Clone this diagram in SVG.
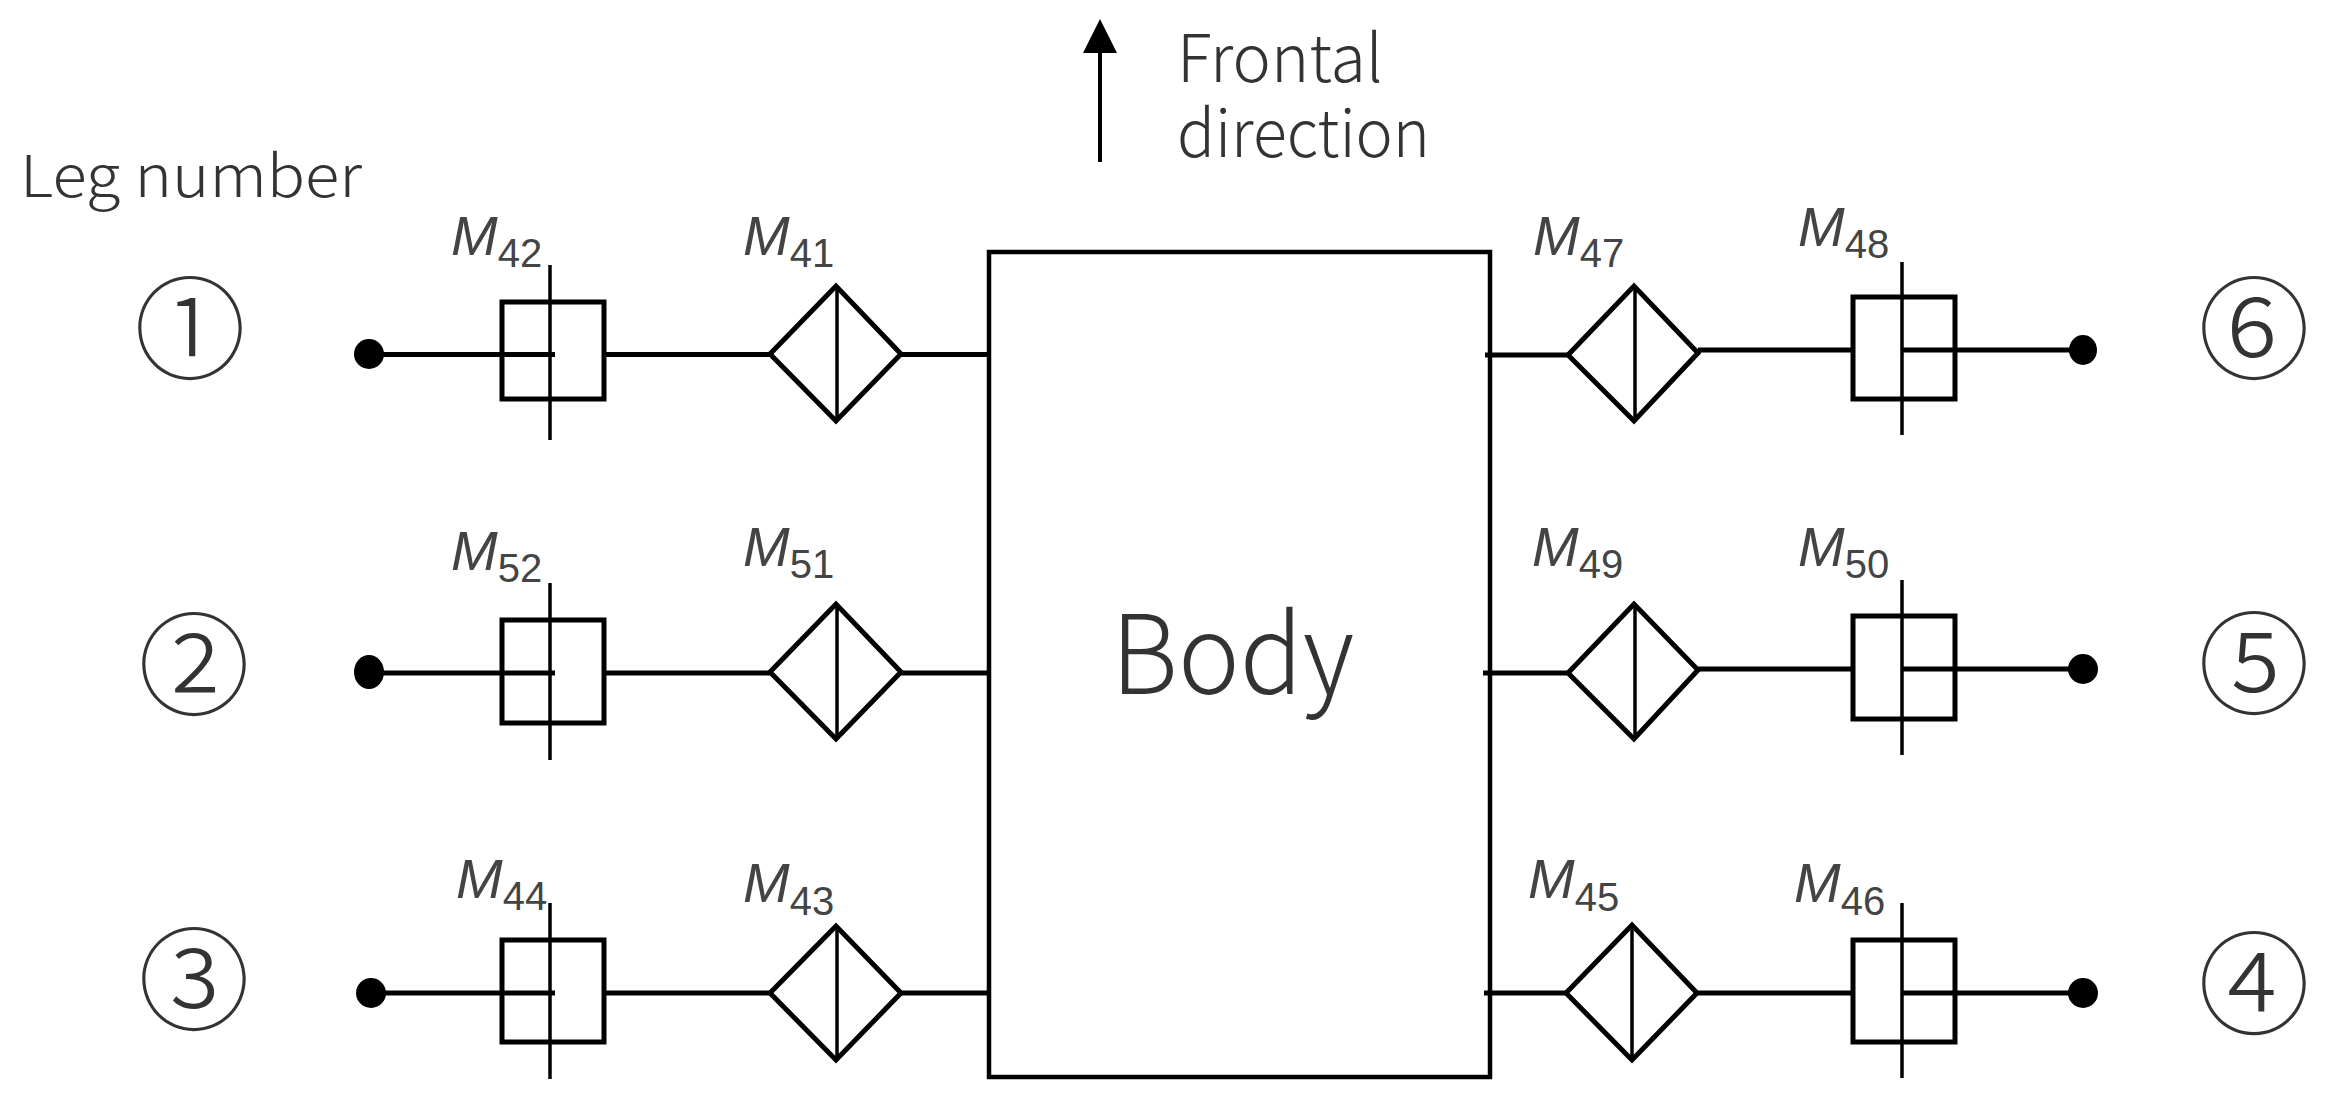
<svg xmlns="http://www.w3.org/2000/svg" width="2348" height="1119" viewBox="0 0 2348 1119">
<style>
.s{fill:none;stroke:#000;stroke-width:5}
.w{fill:#fff;stroke:#000;stroke-width:4.5}
.v{fill:none;stroke:#000;stroke-width:3.5}
.d{fill:#000}
.c line{stroke:#000;stroke-width:5}
text{fill:#333;font-family:"Noto Sans CJK JP","Noto Sans",sans-serif;font-weight:300}
text.m{font-family:"Liberation Sans",Arial,sans-serif;font-style:italic;font-weight:400;font-size:56px;fill:#444}
.m tspan{font-size:40px;font-style:normal}
.n{font-size:112px;text-anchor:middle}
</style>
<defs>
<marker id="head" markerUnits="userSpaceOnUse" markerWidth="34" markerHeight="34" refX="0" refY="17" orient="auto"><path d="M0,0L34,17L0,34Z" fill="#000"/></marker>
</defs>
<rect width="2348" height="1119" fill="#fff"/>
<g id="body"><rect class="w" x="989" y="252" width="501" height="825"/><text x="1111" y="694" font-size="110" textLength="243" lengthAdjust="spacingAndGlyphs">Body</text></g>
<g id="frontal-label"><text x="1177" y="82" font-size="66" textLength="206" lengthAdjust="spacingAndGlyphs">Frontal</text><text x="1177" y="157" font-size="66" textLength="253" lengthAdjust="spacingAndGlyphs">direction</text></g>
<g id="leg-number-label"><text x="20" y="197" font-size="58" textLength="342" lengthAdjust="spacingAndGlyphs">Leg number</text></g>
<g id="leg1"><text class="n" x="190" y="371">①</text></g>
<g id="leg2"><text class="n" x="194" y="707">②</text></g>
<g id="leg3"><text class="n" x="194" y="1022">③</text></g>
<g id="leg6"><text class="n" x="2254" y="371">⑥</text></g>
<g id="leg5"><text class="n" x="2254" y="706">⑤</text></g>
<g id="leg4"><text class="n" x="2254" y="1026">④</text></g>
<g id="m42"><rect class="s" x="502" y="302" width="102" height="97"/><line class="v" x1="550" y1="265" x2="550" y2="440"/><text class="m" x="451" y="255">M<tspan dy="12">42</tspan></text></g>
<g id="m41"><path class="s" d="M770,354L836,286L901,354L836,421Z"/><line class="v" x1="837" y1="286" x2="837" y2="421"/><text class="m" x="743" y="255">M<tspan dy="12">41</tspan></text></g>
<g id="m52"><rect class="s" x="502" y="620" width="102" height="103"/><line class="v" x1="550" y1="583" x2="550" y2="760"/><text class="m" x="451" y="570">M<tspan dy="12">52</tspan></text></g>
<g id="m51"><path class="s" d="M770,672L836,604L901,672L836,739Z"/><line class="v" x1="837" y1="604" x2="837" y2="739"/><text class="m" x="743" y="566">M<tspan dy="12">51</tspan></text></g>
<g id="m44"><rect class="s" x="502" y="940" width="102" height="102"/><line class="v" x1="550" y1="903" x2="550" y2="1079"/><text class="m" x="456" y="898">M<tspan dy="12">44</tspan></text></g>
<g id="m43"><path class="s" d="M770,993L836,926L901,993L836,1060Z"/><line class="v" x1="837" y1="926" x2="837" y2="1060"/><text class="m" x="743" y="902">M<tspan dy="13">43</tspan></text></g>
<g id="m47"><path class="s" d="M1568,355L1634,286L1698,353L1634,421Z"/><line class="v" x1="1635" y1="286" x2="1635" y2="421"/><text class="m" x="1533" y="255">M<tspan dy="12">47</tspan></text></g>
<g id="m48"><rect class="s" x="1853" y="297" width="102" height="102"/><line class="v" x1="1902" y1="262" x2="1902" y2="435"/><text class="m" x="1798" y="246">M<tspan dy="12">48</tspan></text></g>
<g id="m49"><path class="s" d="M1568,673L1634,604L1698,670L1634,739Z"/><line class="v" x1="1635" y1="604" x2="1635" y2="739"/><text class="m" x="1532" y="566">M<tspan dy="12">49</tspan></text></g>
<g id="m50"><rect class="s" x="1853" y="616" width="102" height="103"/><line class="v" x1="1902" y1="580" x2="1902" y2="755"/><text class="m" x="1798" y="566">M<tspan dy="12">50</tspan></text></g>
<g id="m45"><path class="s" d="M1566,993L1632,925L1697,993L1632,1060Z"/><line class="v" x1="1632" y1="925" x2="1632" y2="1060"/><text class="m" x="1528" y="898">M<tspan dy="13">45</tspan></text></g>
<g id="m46"><rect class="s" x="1853" y="940" width="102" height="102"/><line class="v" x1="1902" y1="903" x2="1902" y2="1078"/><text class="m" x="1794" y="902">M<tspan dy="13">46</tspan></text></g>
<g id="end1"><ellipse class="d" cx="369" cy="354" rx="15" ry="15"/></g>
<g id="end2"><ellipse class="d" cx="369" cy="672" rx="15" ry="17"/></g>
<g id="end3"><ellipse class="d" cx="371" cy="993" rx="15" ry="15"/></g>
<g id="end6"><ellipse class="d" cx="2083" cy="350" rx="14" ry="15"/></g>
<g id="end5"><ellipse class="d" cx="2083" cy="669" rx="15" ry="15"/></g>
<g id="end4"><ellipse class="d" cx="2083" cy="993" rx="15" ry="15"/></g>
<g id="connectors" class="c">
<line x1="1100" y1="162" x2="1100" y2="53" style="stroke-width:4" marker-end="url(#head)"/>
<line x1="369" y1="354.500" x2="555" y2="354.500"/><line x1="604" y1="354.500" x2="770" y2="354.500"/><line x1="901" y1="354.500" x2="988" y2="354.500"/>
<line x1="369" y1="673" x2="555" y2="673"/><line x1="604" y1="673" x2="770" y2="673"/><line x1="901" y1="673" x2="988" y2="673"/>
<line x1="371" y1="993" x2="555" y2="993"/><line x1="604" y1="993" x2="770" y2="993"/><line x1="901" y1="993" x2="988" y2="993"/>
<line x1="1485" y1="355" x2="1568" y2="355"/><line x1="1698" y1="350" x2="1853" y2="350"/><line x1="1902" y1="350" x2="2083" y2="350"/>
<line x1="1483" y1="673" x2="1568" y2="673"/><line x1="1698" y1="669" x2="1853" y2="669"/><line x1="1902" y1="669" x2="2083" y2="669"/>
<line x1="1484" y1="993" x2="1566" y2="993"/><line x1="1697" y1="993" x2="1853" y2="993"/><line x1="1902" y1="993" x2="2083" y2="993"/>
</g>
</svg>
